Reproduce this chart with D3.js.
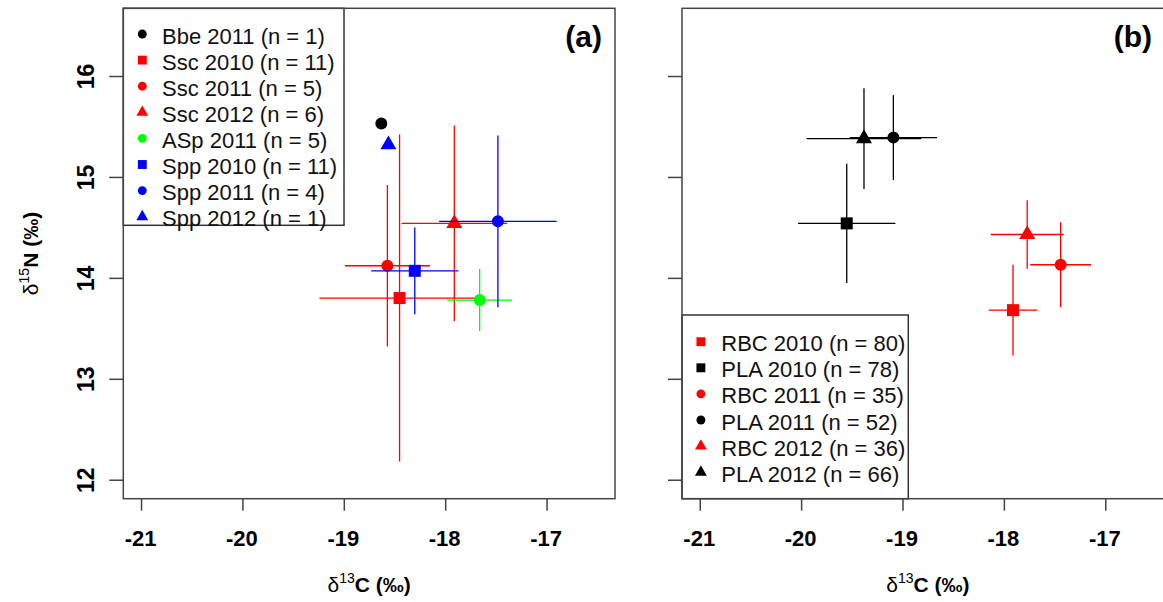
<!DOCTYPE html>
<html>
<head>
<meta charset="utf-8">
<script src="https://cdn.jsdelivr.net/npm/d3@7"></script>
<style>
  body { margin: 0; background: #fff; }
  svg { display: block; }
</style>
</head>
<body>
<div id="chart"></div>
<script>
// Tick values shared by both panels
const xTicks = [-21, -20, -19, -18, -17];
const yTicks = [12, 13, 14, 15, 16];

// Panel (a)
const groupsA = ["Bbe", "Ssc", "Ssc", "Ssc", "ASp", "Spp", "Spp", "Spp"];
const yearsA = [2011, 2010, 2011, 2012, 2011, 2010, 2011, 2012];
const nA = [1, 11, 5, 6, 5, 11, 4, 1];
const d13cA = [-18.63, -18.45, -18.57, -17.91, -17.66, -18.30, -17.48, -18.56];
const d15nA = [15.53, 13.80, 14.12, 14.54, 13.78, 14.07, 14.56, 15.32];
const sdCA = [0, 0.79, 0.42, 0.52, 0.32, 0.43, 0.58, 0];
const sdNA = [0, 1.62, 0.80, 0.97, 0.31, 0.43, 0.85, 0];

// Panel (b)
const groupsB = ["RBC", "PLA", "RBC", "PLA", "RBC", "PLA"];
const yearsB = [2010, 2010, 2011, 2011, 2012, 2012];
const nB = [80, 78, 35, 52, 36, 66];
const d13cB = [-17.91, -19.55, -17.44, -19.09, -17.77, -19.38];
const d15nB = [13.68, 14.54, 14.13, 15.39, 14.43, 15.38];
const sdCB = [0.24, 0.48, 0.30, 0.43, 0.36, 0.565];
const sdNB = [0.45, 0.59, 0.42, 0.42, 0.34, 0.50];

document.addEventListener("DOMContentLoaded", function () {
    const W = 1163, H = 602;
    const font = "'Liberation Sans', Arial, sans-serif";
    const axisCol = "#444";
    const top = 8.3, bottom = 498.7;

    const svg = d3.select("#chart").append("svg")
        .attr("width", W)
        .attr("height", H)
        .style("font-family", font);

    // colour by group, symbol by year
    const colour = d3.scaleOrdinal()
        .domain(["Bbe", "Ssc", "ASp", "Spp", "RBC", "PLA"])
        .range(["#000000", "#ff0000", "#00ff00", "#0000ff", "#ff0000", "#000000"]);
    const shape = d3.scaleOrdinal()
        .domain([2010, 2011, 2012])
        .range([d3.symbolSquare, d3.symbolCircle, d3.symbolTriangle]);
    const symSize = { 2010: 144, 2011: 113, 2012: 111 };

    function drawPanel(cfg) {
        const x = d3.scaleLinear().domain([-21.175, -16.325]).range([cfg.left, cfg.right]);
        const y = d3.scaleLinear().domain([11.812, 16.671]).range([bottom, top]);

        const rows = cfg.groups.map((g, i) => ({
            group: g, year: cfg.years[i], n: cfg.n[i],
            c: cfg.c[i], nn: cfg.nn[i], sdC: cfg.sdC[i], sdN: cfg.sdN[i]
        }));

        const g = svg.append("g");

        // x axis
        const xa = g.append("g")
            .attr("transform", "translate(0," + bottom + ")")
            .call(d3.axisBottom(x).tickValues(xTicks).tickSize(12).tickFormat(d => String(d)));
        xa.select(".domain").remove();
        xa.attr("font-family", font).attr("font-size", 22).attr("font-weight", "bold");
        xa.selectAll("line").attr("stroke", axisCol).attr("stroke-width", 1.5);
        xa.selectAll("text")
            .attr("y", 0).attr("dy", null)
            .attr("fill", "#000")
            .attr("transform", "translate(-1,47.7)");

        // y axis
        const ya = g.append("g")
            .attr("transform", "translate(" + cfg.left + ",0)")
            .call(d3.axisLeft(y).tickValues(yTicks).tickSize(14)
                .tickFormat(d => cfg.yLabels ? String(d) : ""));
        ya.select(".domain").remove();
        ya.attr("font-family", font).attr("font-size", 23).attr("font-weight", "bold");
        ya.selectAll("line").attr("stroke", axisCol).attr("stroke-width", 1.5);
        ya.selectAll("text")
            .attr("x", 0).attr("dy", null)
            .attr("fill", "#000")
            .attr("text-anchor", "middle")
            .attr("transform", "translate(-29.3,0) rotate(-90)");

        // error bars and means, one series at a time
        rows.forEach(d => {
            const col = colour(d.group);
            if (d.sdC > 0) {
                g.append("line")
                    .attr("x1", x(d.c - d.sdC)).attr("x2", x(d.c + d.sdC))
                    .attr("y1", y(d.nn)).attr("y2", y(d.nn))
                    .attr("stroke", col).attr("stroke-width", 1.3);
            }
            if (d.sdN > 0) {
                g.append("line")
                    .attr("x1", x(d.c)).attr("x2", x(d.c))
                    .attr("y1", y(d.nn - d.sdN)).attr("y2", y(d.nn + d.sdN))
                    .attr("stroke", col).attr("stroke-width", 1.3);
            }
            g.append("path")
                .attr("d", d3.symbol(shape(d.year), symSize[d.year]))
                .attr("transform", "translate(" + x(d.c) + "," + y(d.nn) + ")")
                .attr("fill", col);
        });

        // legend
        const lg = cfg.legend;
        g.append("rect")
            .attr("x", lg.x0).attr("y", lg.y0)
            .attr("width", lg.x1 - lg.x0).attr("height", lg.y1 - lg.y0)
            .attr("fill", "#fff").attr("stroke", "#333").attr("stroke-width", 1.5);
        rows.forEach((d, i) => {
            const ry = lg.rowY + i * 26.1;
            g.append("path")
                .attr("d", d3.symbol(shape(d.year), symSize[d.year] * 0.55))
                .attr("transform", "translate(" + lg.symX + "," + ry + ")")
                .attr("fill", colour(d.group));
            g.append("text")
                .attr("x", lg.textX).attr("y", ry + 9.5)
                .attr("font-size", 22)
                .attr("fill", "#111")
                .text(d.group + " " + d.year + " (n = " + d.n + ")");
        });

        // panel tag
        g.append("text")
            .attr("x", cfg.tagX).attr("y", 47)
            .attr("text-anchor", "end")
            .attr("font-size", 30).attr("font-weight", "bold")
            .text(cfg.tag);

        // plot box
        g.append("rect")
            .attr("x", cfg.left).attr("y", top)
            .attr("width", cfg.right - cfg.left).attr("height", bottom - top)
            .attr("fill", "none").attr("stroke", axisCol).attr("stroke-width", 1.5);

        // x label: delta 13C (permil)
        const xl = g.append("text")
            .attr("x", (cfg.left + cfg.right) / 2).attr("y", 592)
            .attr("text-anchor", "middle").attr("font-size", 21);
        xl.append("tspan").text("\u03B4");
        xl.append("tspan").attr("font-size", 14).attr("dy", -9).text("13");
        xl.append("tspan").attr("font-weight", "bold").attr("dy", 9).text("C (\u2030)");

        if (cfg.yLabels) {
            const yl = g.append("text")
                .attr("transform", "translate(38," + (top + bottom) / 2 + ") rotate(-90)")
                .attr("text-anchor", "middle").attr("font-size", 21);
            yl.append("tspan").text("\u03B4");
            yl.append("tspan").attr("font-size", 14).attr("dy", -9).text("15");
            yl.append("tspan").attr("font-weight", "bold").attr("dy", 9).text("N (\u2030)");
        }
    }

    drawPanel({
        left: 123.3, right: 615, yLabels: true, tag: "(a)", tagX: 602,
        groups: groupsA, years: yearsA, n: nA, c: d13cA, nn: d15nA, sdC: sdCA, sdN: sdNA,
        legend: { x0: 123.3, x1: 344, y0: 8.3, y1: 225.3, symX: 142.3, textX: 162, rowY: 34 }
    });

    drawPanel({
        left: 682, right: 1173.7, yLabels: false, tag: "(b)", tagX: 1152,
        groups: groupsB, years: yearsB, n: nB, c: d13cB, nn: d15nB, sdC: sdCB, sdN: sdNB,
        legend: { x0: 682, x1: 908.3, y0: 315, y1: 498.7, symX: 700.9, textX: 721.3, rowY: 341.7 }
    });
});
</script>
</body>
</html>
